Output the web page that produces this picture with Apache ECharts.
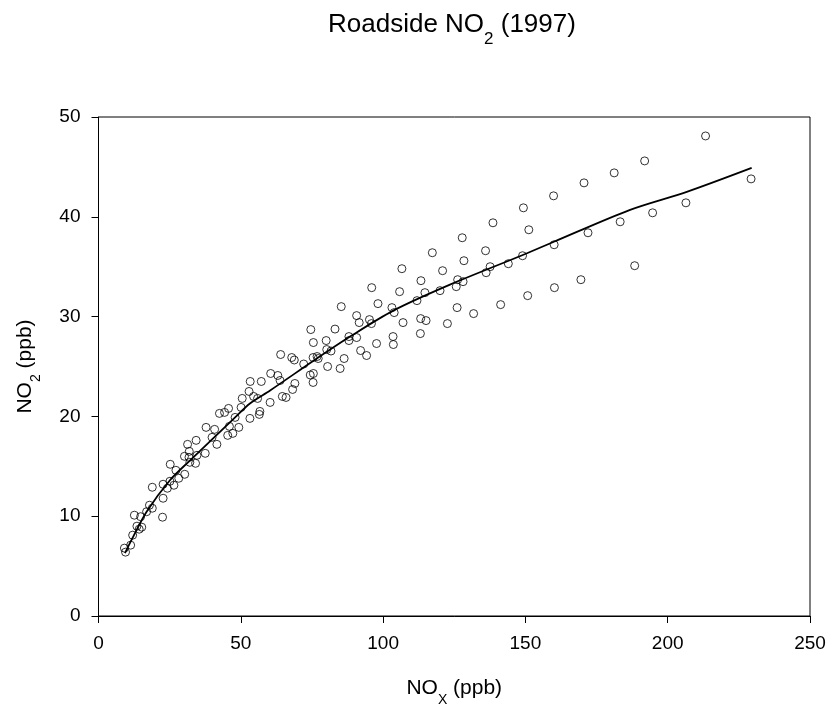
<!DOCTYPE html>
<html>
<head>
<meta charset="utf-8">
<script src="https://cdn.jsdelivr.net/npm/echarts@6/dist/echarts.min.js"></script>
<style>html,body{margin:0;padding:0;background:#fff;}#c{width:827px;height:705px;}</style>
</head>
<body>
<div id="c"></div>
<script>
// Observed NOx (ppb)
var noxValues = [9.1,9.5,11.3,12.0,12.6,13.5,14.3,15.2,14.8,16.9,17.9,18.9,18.9,22.5,22.7,22.7,24.2,25.1,25.2,26.5,27.2,28.2,30.3,30.2,31.3,31.9,32.1,31.8,34.3,34.1,34.6,37.8,37.5,40.8,41.6,39.9,42.5,44.3,45.7,46.0,45.4,47.2,49.3,48.0,50.1,50.5,52.9,53.2,54.5,55.9,56.7,56.5,53.3,57.2,60.3,
60.5,63.0,63.8,64.0,64.6,65.9,68.2,69.0,67.9,68.8,72.1,74.4,75.4,75.5,75.4,76.8,77.2,75.5,74.6,80.0,80.2,81.7,80.5,83.1,84.9,86.3,85.3,88.0,88.0,90.7,90.7,91.6,92.1,94.2,95.2,95.9,96.0,97.7,98.2,103.1,103.9,103.5,103.6,105.8,106.6,107.0,111.9,113.3,113.2,115.1,113.1,114.7,117.3,120.0,120.9,122.6,
127.8,128.4,126.2,128.1,125.7,126.0,131.8,136.0,137.6,136.2,138.6,141.3,144.0,149.0,149.3,151.2,150.8,159.9,160.1,160.2,169.5,170.6,172.0,181.2,183.3,191.9,194.7,188.4,206.4,213.3,229.3];
// Observed NO2 (ppb)
var no2Values = [6.8,6.4,7.1,8.1,10.1,9.0,8.7,8.9,9.95,10.45,11.1,10.8,12.9,9.9,11.8,13.2,12.8,13.5,15.2,13.1,14.6,13.8,14.2,16.0,17.2,16.5,15.4,15.9,17.6,15.3,16.1,18.9,16.3,18.7,17.2,17.9,20.3,20.4,20.8,19.0,18.1,18.3,18.9,19.9,20.9,21.8,22.5,19.8,22.0,21.8,20.5,20.2,23.5,23.5,21.4,
24.3,24.1,23.6,26.2,22.0,21.9,22.7,23.3,25.9,25.65,25.25,24.15,23.4,24.3,25.9,26.0,25.8,27.4,28.7,27.6,26.7,26.55,25.0,28.75,24.8,25.8,31.0,28.0,27.6,27.9,30.1,29.4,26.6,26.1,29.7,29.3,32.9,27.3,31.3,30.9,30.4,28.0,27.2,32.5,34.8,29.4,31.6,33.6,29.8,29.6,28.3,32.4,36.4,32.6,34.6,29.3,
37.9,35.6,33.7,33.5,33.0,30.9,30.3,36.6,35.0,34.4,39.4,31.2,35.3,36.1,40.9,38.7,32.1,42.1,37.2,32.9,33.7,43.4,38.4,44.4,39.5,45.6,40.4,35.1,41.4,48.1,43.8];
// Fitted curve
var fitNox = [9.3,12.2,16.9,25.1,32.2,48.0,53.2,60.3,76.7,88.4,103.6,123.5,149.3,160.0,186.8,206.7,229.5];
var fitNo2 = [6.3,7.95,10.45,13.6,15.6,19.9,21.3,22.6,25.8,28.0,30.6,33.2,36.2,37.5,40.7,42.5,44.9];
var xTicks = [0,50,100,150,200,250];
var yTicks = [0,10,20,30,40,50];

var scatterData = noxValues.map(function(x,i){return [x,no2Values[i]];});
var lineData = fitNox.map(function(x,i){return [x,fitNo2[i]];});
var FF = '"Liberation Sans", Arial, sans-serif';

var chart = echarts.init(document.getElementById('c'), null, {renderer:'canvas'});
chart.setOption({
  animation:false,
  backgroundColor:'#fff',
  title:{
    text:'{a|Roadside NO}{s|2}{a| (1997)}',
    left:323, top:7,
    textStyle:{
      fontWeight:'normal',
      rich:{
        a:{fontSize:26,fontFamily:FF,color:'#000',fontWeight:'normal'},
        s:{fontSize:17,fontFamily:FF,color:'#000',fontWeight:'normal',verticalAlign:'bottom',padding:[0,0,-10,0]}
      }
    }
  },
  grid:{left:98.5,right:17,top:117,bottom:89,containLabel:false,outerBoundsMode:'none',
    show:true,borderColor:'#000',borderWidth:1,backgroundColor:'transparent'},
  xAxis:{
    type:'value', min:0, max:250, interval:50,
    name:'{a|NO}{s|X}{a| (ppb)}', nameLocation:'middle', nameGap:62,
    nameTextStyle:{rich:{
      a:{fontSize:21,fontFamily:FF,color:'#000'},
      s:{fontSize:14,fontFamily:FF,color:'#000',verticalAlign:'bottom',padding:[0,0,-8,0]}
    }},
    axisLine:{lineStyle:{color:'#000',width:1}},
    axisTick:{show:true,inside:false,length:7,lineStyle:{color:'#000'}},
    axisLabel:{fontSize:19,fontFamily:FF,color:'#000',margin:18,
      formatter:function(v){return xTicks.indexOf(v)>=0?String(v):'';}},
    splitLine:{show:false}
  },
  yAxis:{
    type:'value', min:0, max:50, interval:10,
    name:'{a|NO}{s|2}{a| (ppb)}', nameLocation:'middle', nameGap:63, nameRotate:90,
    nameTextStyle:{rich:{
      a:{fontSize:21,fontFamily:FF,color:'#000'},
      s:{fontSize:14,fontFamily:FF,color:'#000',verticalAlign:'bottom',padding:[0,0,-8,0]}
    }},
    axisLine:{lineStyle:{color:'#000',width:1}},
    axisTick:{show:true,inside:false,length:7,lineStyle:{color:'#000'}},
    axisLabel:{fontSize:19,fontFamily:FF,color:'#000',margin:18,
      formatter:function(v){return yTicks.indexOf(v)>=0?String(v):'';}},
    splitLine:{show:false}
  },
  series:[
    {
      type:'scatter', data:scatterData, symbol:'circle', symbolSize:8,
      itemStyle:{color:'rgba(0,0,0,0)',borderColor:'#000',borderWidth:1},
      silent:true, z:2
    },
    {
      type:'line', data:lineData, showSymbol:false, smooth:0.3,
      lineStyle:{color:'#000',width:1.8}, silent:true, z:3
    }
  ]
});
</script>
</body>
</html>
